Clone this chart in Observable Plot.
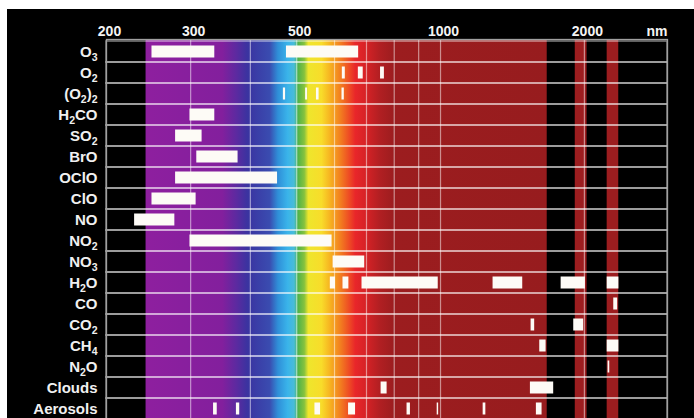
<!DOCTYPE html>
<html>
<head>
<meta charset="utf-8">
<script src="https://cdn.jsdelivr.net/npm/d3@7"></script>
<script src="https://cdn.jsdelivr.net/npm/@observablehq/plot@0.6"></script>
<style>
  html, body { margin: 0; padding: 0; background: #ffffff; width: 694px; height: 418px; overflow: hidden; }
  #panel { position: absolute; left: 7px; top: 9px; width: 687px; height: 409px; background: #000; overflow: hidden; }
  #panel svg { display: block; }
</style>
</head>
<body>
<div id="panel"></div>
<script>
// ---- data ----
const species = ["O₃","O₂","(O₂)₂","H₂CO","SO₂","BrO","OClO","ClO","NO","NO₂","NO₃","H₂O","CO","CO₂","CH₄","N₂O","Clouds","Aerosols"];

// absorption bands: [species, from nm, to nm]
const absorptionBands = [
  ["O₃", 249, 337], ["O₃", 476, 674],
  ["O₂", 623, 632], ["O₂", 673, 689], ["O₂", 749, 763],
  ["(O₂)₂", 469, 474], ["(O₂)₂", 522, 527], ["(O₂)₂", 550, 557], ["(O₂)₂", 622, 629],
  ["H₂CO", 299, 337],
  ["SO₂", 279, 317],
  ["BrO", 309, 377],
  ["OClO", 279, 456],
  ["ClO", 249, 308],
  ["NO", 229, 278],
  ["NO₂", 299, 593],
  ["NO₃", 596, 694],
  ["H₂O", 588, 603], ["H₂O", 625, 643], ["H₂O", 685, 989], ["H₂O", 1288, 1486], ["H₂O", 1788, 2010], ["H₂O", 2232, 2362],
  ["CO", 2304, 2348],
  ["CO₂", 1547, 1574], ["CO₂", 1900, 1993],
  ["CH₄", 1613, 1663], ["CH₄", 2232, 2362],
  ["N₂O", 2242, 2260],
  ["Clouds", 751, 773], ["Clouds", 1542, 1725],
  ["Aerosols", 335, 341], ["Aerosols", 374, 380], ["Aerosols", 546, 561], ["Aerosols", 642, 664],
  ["Aerosols", 851, 865], ["Aerosols", 984, 991], ["Aerosols", 1228, 1244], ["Aerosols", 1587, 1631]
];

const tickValues = [200, 300, 500, 1000, 2000];
const gridValues = [300, 400, 500, 600, 700, 800, 900, 1000, 2000];
const xDomain = [200, 2985];

// background spectrum: colour stops [nm, colour]
const spectrumStops = [
  [242, "#8e1f9f"], [350, "#831f9d"], [375, "#5c2aa0"], [395, "#3b33a0"], [440, "#3a4cb0"],
  [458, "#2f8fd8"], [480, "#3ab4ea"], [495, "#48bcd8"], [505, "#52b348"], [520, "#86c23e"],
  [530, "#eee62c"], [565, "#f8dc2a"], [590, "#f6b020"], [620, "#f27c20"], [645, "#ee4c24"],
  [665, "#e8262a"], [700, "#d62226"], [750, "#b01f22"], [800, "#9c1d1f"], [1672, "#971c1e"]
];
const spectrumExtent = [242, 1672];
const redBands = [[1914, 2026], [2232, 2360]];

// ---- chart ----
const darkRed = "#9c1d1f";
const plot = Plot.plot({
  width: 687,
  height: 412,
  marginLeft: 99,
  marginRight: 27,
  marginTop: 30,
  marginBottom: 0,
  style: { background: "black", color: "white", fontFamily: "'Liberation Sans', Arial, sans-serif" },
  x: { type: "log", domain: xDomain, label: null },
  y: { domain: species, padding: 0, label: null },
  marks: [
    Plot.rect([spectrumExtent], { x1: d => d[0], x2: d => d[1], fill: "url(#spectrum)" }),
    Plot.rect(redBands, { x1: d => d[0], x2: d => d[1], fill: darkRed }),
    Plot.ruleX(gridValues, { stroke: "white", strokeOpacity: 0.5, strokeWidth: 1.2 }),
    Plot.barX(species, { y: d => d, x1: () => xDomain[0], x2: () => xDomain[1], fill: "none", stroke: "white", strokeOpacity: 0.5, strokeWidth: 1.5 }),
    Plot.barX(absorptionBands, { y: d => d[0], x1: d => d[1], x2: d => d[2], fill: "#fdfbf6", insetTop: 4.5, insetBottom: 4.5 }),
    Plot.frame({ stroke: "#a0a0a0", strokeWidth: 1.3 }),
    Plot.axisX({ anchor: "top", ticks: tickValues, tickFormat: d => String(d), tickSize: 0, tickPadding: 4, dx: 3,
                 fontSize: 14, fontWeight: "bold", fill: "#f4f4f4", label: null }),
    Plot.text(["nm"], { text: d => d, frameAnchor: "top-right", textAnchor: "end", lineAnchor: "bottom", dy: -4,
                        fontSize: 14, fontWeight: "bold", fill: "#f4f4f4" }),
    Plot.axisY({ tickSize: 0, tickPadding: 9, fontSize: 15, fontWeight: "bold", fill: "#f0f0f0", label: null })
  ]
});

// gradient for the spectrum
const ns = "http://www.w3.org/2000/svg";
const lo = Math.log(spectrumExtent[0]), hi = Math.log(spectrumExtent[1]);
const defs = document.createElementNS(ns, "defs");
const grad = document.createElementNS(ns, "linearGradient");
grad.setAttribute("id", "spectrum");
grad.setAttribute("x1", "0"); grad.setAttribute("x2", "1");
grad.setAttribute("y1", "0"); grad.setAttribute("y2", "0");
for (const [w, c] of spectrumStops) {
  const s = document.createElementNS(ns, "stop");
  s.setAttribute("offset", ((Math.log(w) - lo) / (hi - lo)).toFixed(4));
  s.setAttribute("stop-color", c);
  grad.appendChild(s);
}
defs.appendChild(grad);
plot.insertBefore(defs, plot.firstChild);

// subscripts in row labels
const subs = "₀₁₂₃₄₅₆₇₈₉";
plot.querySelectorAll('[aria-label="y-axis tick label"] text').forEach(t => {
  const s = t.textContent;
  if (![...s].some(ch => subs.includes(ch))) return;
  t.textContent = "";
  let inSub = false;
  for (const ch of s) {
    const k = subs.indexOf(ch);
    const isSub = k >= 0;
    const sp = document.createElementNS(ns, "tspan");
    sp.textContent = isSub ? String(k) : ch;
    if (isSub) {
      sp.setAttribute("font-size", "10.5");
      if (!inSub) sp.setAttribute("dy", "4");
    } else if (inSub) {
      sp.setAttribute("dy", "-4");
    }
    inSub = isSub;
    t.appendChild(sp);
  }
});

document.getElementById("panel").appendChild(plot);
</script>
</body>
</html>
